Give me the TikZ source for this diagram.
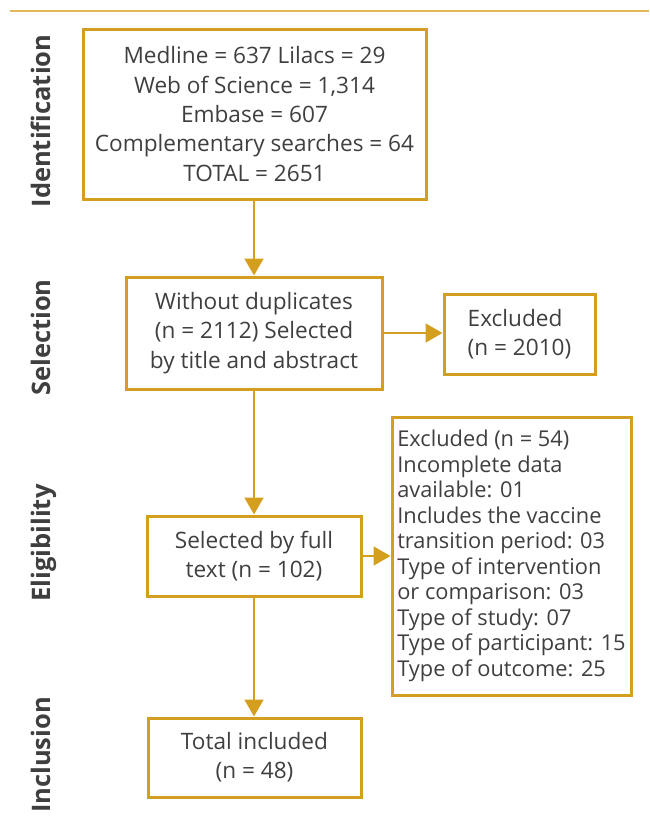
\documentclass[tikz,border=0pt]{standalone}
\usepackage{fontspec}
\setmainfont{Open Sans}
\usetikzlibrary{arrows.meta,calc}
\definecolor{gold}{HTML}{D49F1F}
\definecolor{lightgold}{HTML}{E4B55A}
\definecolor{inktext}{HTML}{3F3F3F}

\begin{document}
\begin{tikzpicture}[x=1pt, y=-1pt,
		box/.style={draw=gold, line width=3pt, text=inktext, align=center, font=\fontsize{22.6}{29.3}\selectfont},
		exclbox/.style={box, align=left},
		stage/.style={rotate=90, anchor=base, text=inktext, font=\fontsize{25.5}{30}\selectfont\bfseries},
		flow/.style={draw=gold, line width=2pt, -{Triangle[length=17pt, width=19pt]}}]
		%%%%% START %%%%%
		
		\useasboundingbox (0, 0) rectangle (649, 836);
		\draw[line width=2pt, color=lightgold] (10, 11) -- (649, 11);
		
		\node[stage] (ident) at (50, 121) {Identification};
		\node[stage] (select) at (50, 337.5) {Selection};
		\node[stage] (elig) at (50, 543) {Eligibility};
		\node[stage] (incl) at (50, 755) {Inclusion};
		
		\node[box, minimum width=343pt, minimum height=170pt] (records) at (254.5, 114) {Medline = 637 Lilacs = 29\\Web of Science = 1,314\\Embase = 607\\Complementary searches = 64\\TOTAL = 2651};
		\node[box, minimum width=256pt, minimum height=112pt] (screened) at (254, 333) {Without duplicates\\(n = 2112) Selected\\by title and abstract};
		\node[exclbox, minimum width=151pt, minimum height=80pt] (exclscreen) at (519.5, 334) {Excluded\\(n = 2010)};
		\node[box, minimum width=214pt, minimum height=80pt] (fulltext) at (254, 556) {Selected by full\\text (n = 102)};
		\node[exclbox, minimum width=239pt, minimum height=278pt, font=\fontsize{21.8}{25.5}\selectfont] (exclfull) at (511.5, 556) {Excluded (n = 54)\\Incomplete data\\available: 01\\Includes the vaccine\\transition period: 03\\Type of intervention\\or comparison: 03\\Type of study: 07\\Type of participant: 15\\Type of outcome: 25};
		\node[box, minimum width=213pt, minimum height=79pt] (included) at (254.5, 757.5) {Total included\\(n = 48)};
		
		\draw[flow] (records.south -| screened.north) -- (screened.north);
		\draw[flow] (screened.east) -- (screened.east -| exclscreen.west);
		\draw[flow] (screened.south) -- (fulltext.north);
		\draw[flow] (fulltext.east) -- (exclfull.west);
		\draw[flow] (fulltext.south) -- (fulltext.south |- included.north);
		
		%%%%% END %%%%%
	\end{tikzpicture}
\end{document}
